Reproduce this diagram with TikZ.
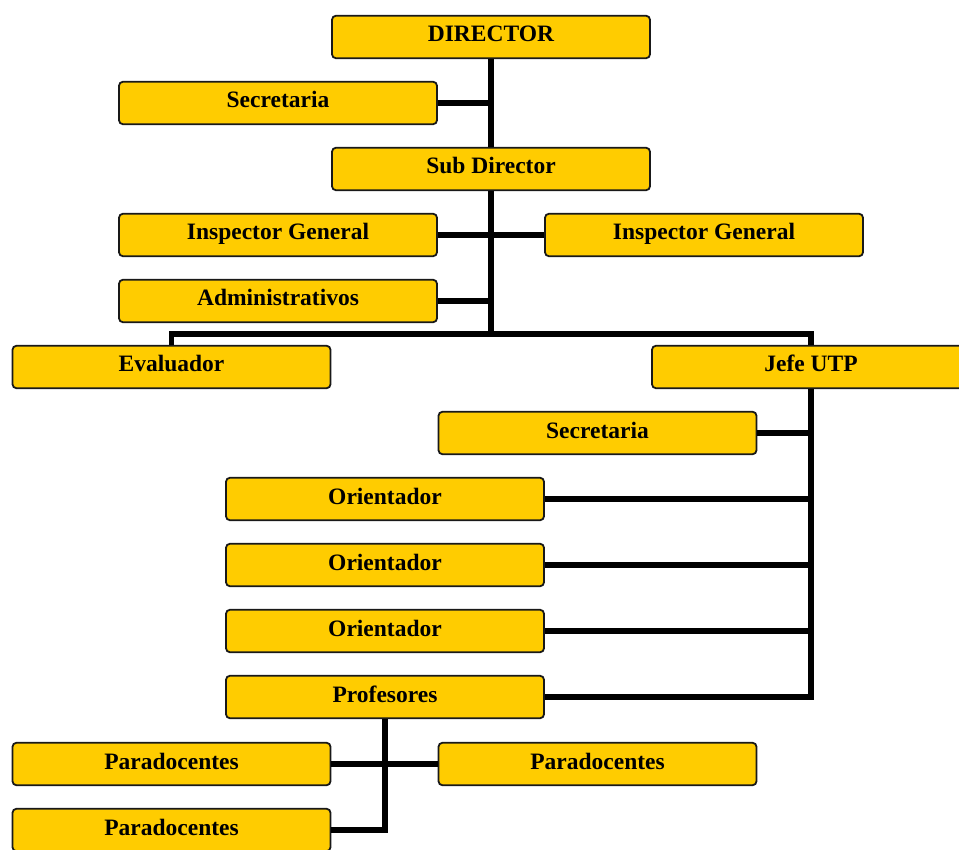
\documentclass[tikz,border=0pt]{standalone}
\usepackage{fontspec}
\setmainfont{Liberation Serif}
\definecolor{cargoamarillo}{HTML}{FFCC00}
\tikzset{
  cargo/.style={draw=black!90,line width=1.8pt,fill=cargoamarillo,rounded corners=4pt,
    minimum width=318pt,minimum height=42.5pt,inner sep=0pt,text height=16pt,text depth=6pt,
    font=\fontsize{23.5}{27}\selectfont\bfseries},
  enlace/.style={line width=5.5pt,draw=black}
}
\begin{document}
\begin{tikzpicture}[x=1pt,y=-1pt]
                \useasboundingbox (0,0) rectangle (959,850);
                \coordinate (j) at (491,334);
                \draw[enlace] (491,37) -- (j);
                \node[cargo] (dir) at (491,37) {DIRECTOR};
                \node[cargo] (sec) at (278,103) {Secretaria};
                \node[cargo] (subdir) at (491,169) {Sub Director};
                \node[cargo] (inspL) at (278,235) {Inspector General};
                \node[cargo] (inspR) at (704,235) {Inspector General};
                \node[cargo] (admin) at (278,301) {Administrativos};
                \node[cargo] (eval) at (171.5,367) {Evaluador};
                \node[cargo] (utp) at (811,367) {Jefe UTP};
                \node[cargo] (secutp) at (597.5,433) {Secretaria};
                \node[cargo] (ori1) at (385,499) {Orientador};
                \node[cargo] (ori2) at (385,565) {Orientador};
                \node[cargo] (ori3) at (385,631) {Orientador};
                \node[cargo] (prof) at (385,697) {Profesores};
                \node[cargo] (para1) at (171.5,764) {Paradocentes};
                \node[cargo] (para2) at (597.5,764) {Paradocentes};
                \node[cargo] (para3) at (171.5,830) {Paradocentes};
                % lineas de mando
                \draw[enlace] (dir.south) -- (subdir.north);
                \draw[enlace] (subdir.south) -- (j);
                \draw[enlace] (sec.east) -- (sec.east -| dir.south);
                \draw[enlace] (inspL.east) -- (inspR.west);
                \draw[enlace] (admin.east) -- (admin.east -| dir.south);
                \draw[enlace] (eval.north) |- (j) -| (utp.north);
                \draw[enlace] (utp.south) |- (prof.east);
                \foreach \n in {secutp,ori1,ori2,ori3}
                  \draw[enlace] (\n.east) -- (\n.east -| utp.south);
                \draw[enlace] (para1.east) -- (para2.west);
                \draw[enlace] (prof.south) |- (para3.east);
\end{tikzpicture}
\end{document}
